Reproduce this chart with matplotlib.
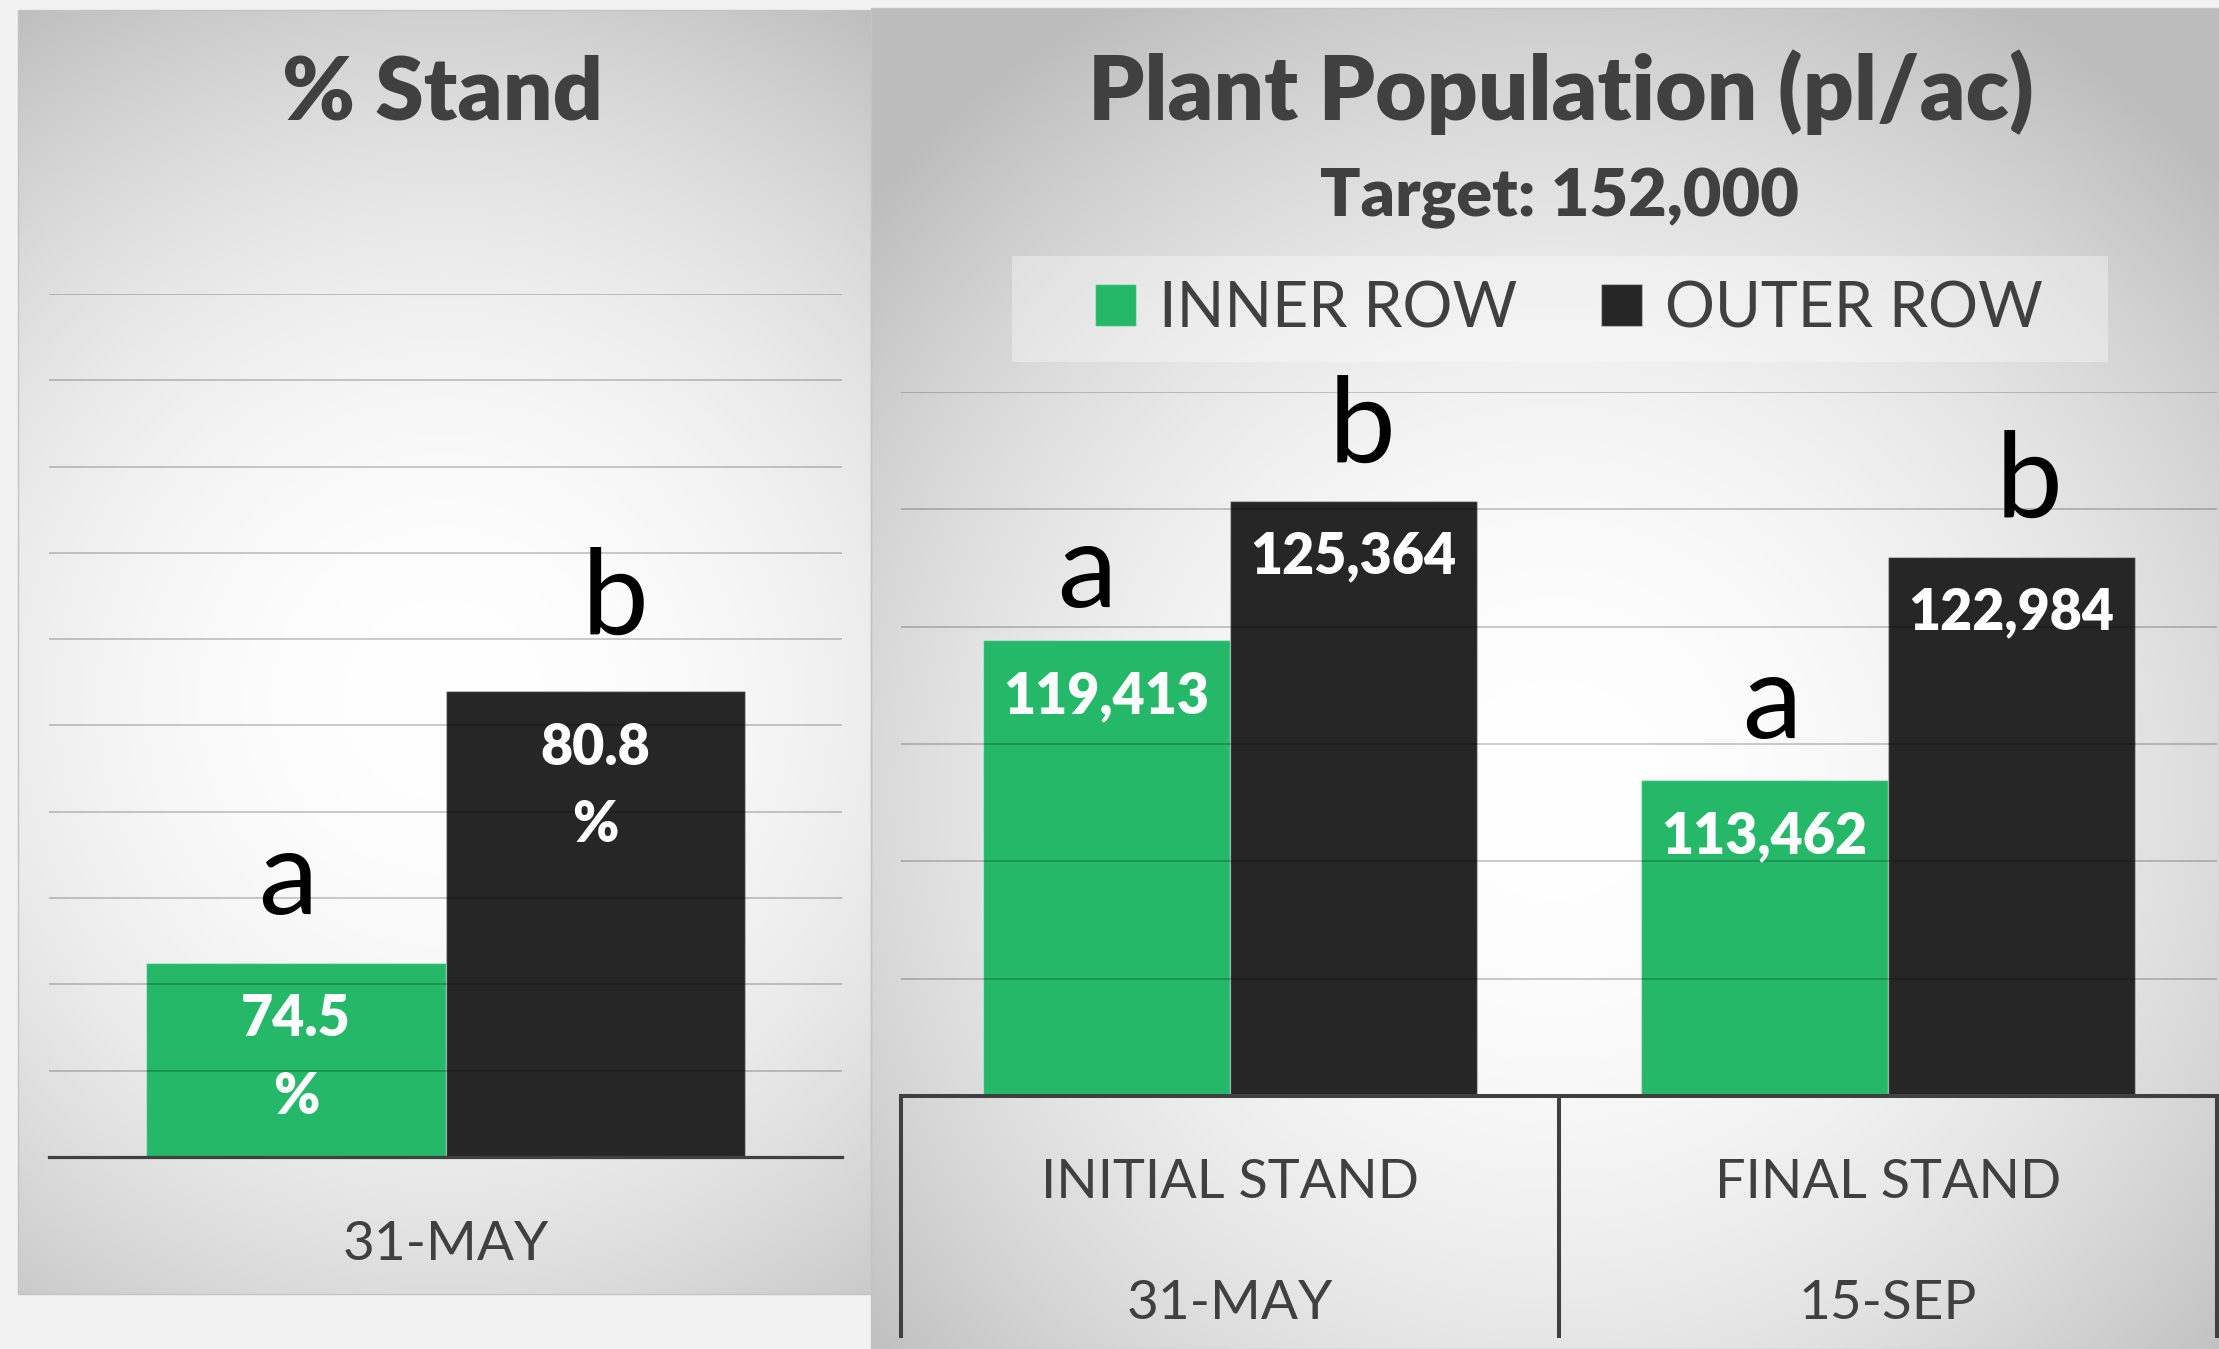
import numpy as np
import matplotlib
matplotlib.use("Agg")
import matplotlib.pyplot as plt
from matplotlib.patches import Rectangle

plt.rcParams['font.family'] = ['Lato', 'DejaVu Sans']

# ---------------- data ----------------
stand_dates = ["31-MAY"]
stand_inner = [74.5]
stand_outer = [80.8]
stand_letters_inner = ["a"]
stand_letters_outer = ["b"]

pop_categories = ["INITIAL STAND", "FINAL STAND"]
pop_dates = ["31-MAY", "15-SEP"]
pop_inner = [119413, 113462]
pop_outer = [125364, 122984]
pop_letters_inner = ["a", "a"]
pop_letters_outer = ["b", "b"]

series_names = ["INNER ROW", "OUTER ROW"]
target = 152000

# ---------------- style ----------------
GREEN = '#24B868'
BLACK = '#262626'
TXT = '#404040'
W, H, DPI = 2219, 1349, 100
BOLD = 'heavy'

fig = plt.figure(figsize=(W / DPI, H / DPI), dpi=DPI)
fig.patch.set_facecolor('#f2f2f2')


def px_axes(x0, y0, x1, y1, **kw):
    return fig.add_axes([x0 / W, 1 - y1 / H, (x1 - x0) / W, (y1 - y0) / H], **kw)


# background layer in pixel coordinates
bg = px_axes(0, 0, W, H)
bg.axis('off')


def panel(x0, y0, x1, y1, cx, cy, scale):
    xs = np.arange(x0, x1) + 0.5
    ys = np.arange(y0, y1) + 0.5
    X, Y = np.meshgrid(xs, ys)
    d = np.hypot(X - cx, Y - cy)
    v = np.clip(1 - 0.23 * (d / scale) ** 2, 0.74, 1.0)
    img = np.dstack([v, v, v])
    bg.imshow(img, extent=(x0, x1, y1, y0), interpolation='bilinear',
              aspect='auto', zorder=0)
    bg.add_patch(Rectangle((x0, y0), x1 - x0, y1 - y0, fill=False,
                           ec='#c4c4c4', lw=1.0, zorder=0.5))


panel(871, 8, 2219, 1349, 1555, 790, 850)
panel(18, 10, 871, 1294, 444, 700, 770)
bg.set_xlim(0, W)
bg.set_ylim(H, 0)

# legend background box
bg.add_patch(Rectangle((1012, 256), 1096, 106, fc='white', alpha=0.35,
                       ec='none', zorder=1))

# titles
bg.text(443, 120, "% Stand", ha='center', va='baseline', fontsize=63,
        fontweight=BOLD, color=TXT)
bg.text(1561, 120, "Plant Population (pl/ac)", ha='center', va='baseline',
        fontsize=64, fontweight=BOLD, color=TXT)
bg.text(1560, 216, f"Target: {target:,}", ha='center', va='baseline',
        fontsize=48, fontweight=BOLD, color=TXT)


def style_axes(ax, lw_base):
    ax.set_facecolor('none')
    for s in ['top', 'right', 'left']:
        ax.spines[s].set_visible(False)
    ax.spines['bottom'].set_color(TXT)
    ax.spines['bottom'].set_linewidth(lw_base)
    ax.spines['bottom'].set_zorder(4)
    ax.tick_params(axis='both', length=0, labelleft=False, labelbottom=False)
    ax.set_axisbelow(False)
    ax.yaxis.grid(True, color='black', alpha=0.2, lw=1.4)


# ---------------- left chart: % Stand ----------------
axL = px_axes(49, 294, 842, 1157)
style_axes(axL, 2.3)
wL = 0.3775
xL = np.arange(len(stand_dates))
bL_in = axL.bar(xL - wL / 2, stand_inner, wL, color=GREEN,
                edgecolor=(1, 1, 1, 0.35), lw=1)
bL_out = axL.bar(xL + wL / 2, stand_outer, wL, color=BLACK,
                 edgecolor=(1, 1, 1, 0.35), lw=1)
axL.set_xlim(-0.5, len(stand_dates) - 0.5)
axL.set_ylim(70, 90)
axL.set_yticks(np.arange(72, 91, 2))
axL.set_xticks(xL)

letter_off_L = {'in': (-6, 35), 'out': (14, 41)}
for i, (vi, vo) in enumerate(zip(stand_inner, stand_outer)):
    for x, v, letter, key in [(xL[i] - wL / 2, vi, stand_letters_inner[i], 'in'),
                              (xL[i] + wL / 2, vo, stand_letters_outer[i], 'out')]:
        axL.annotate(letter, xy=(x, v), xytext=letter_off_L[key],
                     textcoords='offset points', ha='center', va='baseline',
                     fontsize=86, color='black', annotation_clip=False)
        axL.annotate(f"{v}", xy=(x, v), xytext=(0, -53),
                     textcoords='offset points', ha='center', va='baseline',
                     fontsize=40, fontweight=BOLD, color='white', zorder=5)
        axL.annotate("%", xy=(x, v), xytext=(0, -109),
                     textcoords='offset points', ha='center', va='baseline',
                     fontsize=40, fontweight=BOLD, color='white', zorder=5)
    axL.text(xL[i], -0.1194, stand_dates[i], transform=axL.get_xaxis_transform(),
             ha='center', va='baseline', fontsize=39.5, color=TXT)

# ---------------- right chart: Plant Population ----------------
axR = px_axes(901, 392, 2217, 1096)
style_axes(axR, 2.9)
wR = 0.375
xR = np.arange(len(pop_categories))
bR_in = axR.bar(xR - wR / 2, pop_inner, wR, color=GREEN,
                edgecolor=(1, 1, 1, 0.35), lw=1, label=series_names[0])
bR_out = axR.bar(xR + wR / 2, pop_outer, wR, color=BLACK,
                 edgecolor=(1, 1, 1, 0.35), lw=1, label=series_names[1])
axR.set_xlim(-0.5, len(pop_categories) - 0.5)
axR.set_ylim(100000, 130000)
axR.set_yticks(np.arange(105000, 130001, 5000))
axR.set_xticks(xR)

# category table lines
axR.vlines(np.arange(len(pop_categories) + 1) - 0.5, -0.344, 0,
           transform=axR.get_xaxis_transform(), colors=TXT, lw=2.9,
           clip_on=False, zorder=4)

letter_off_in = [(-14, 24), (5, 30)]
letter_off_out = [(6, 28), (13, 29)]
for i in range(len(pop_categories)):
    for x, v, letter, off in [(xR[i] - wR / 2, pop_inner[i], pop_letters_inner[i], letter_off_in[i]),
                              (xR[i] + wR / 2, pop_outer[i], pop_letters_outer[i], letter_off_out[i])]:
        axR.annotate(letter, xy=(x, v), xytext=off, textcoords='offset points',
                     ha='center', va='baseline', fontsize=86, color='black',
                     annotation_clip=False)
        axR.annotate(f"{v:,}", xy=(x, v), xytext=(0, -52.5),
                     textcoords='offset points', ha='center', va='baseline',
                     fontsize=40, fontweight=BOLD, color='white', zorder=5)
    tr = axR.get_xaxis_transform()
    axR.text(xR[i], -0.1449, pop_categories[i], transform=tr, ha='center',
             va='baseline', fontsize=39, color=TXT)
    axR.text(xR[i], -0.3168, pop_dates[i], transform=tr, ha='center',
             va='baseline', fontsize=39.5, color=TXT)

# legend
fig.legend([bR_in, bR_out], series_names, loc='center',
           bbox_to_anchor=(1569 / W, 1 - 309 / H), ncol=2, frameon=False,
           fontsize=45, handlelength=0.65, handleheight=0.65,
           handletextpad=0.37, columnspacing=1.35, labelcolor=TXT,
           borderaxespad=0, borderpad=0)

fig.savefig('out.png', dpi=DPI, facecolor=fig.get_facecolor())
